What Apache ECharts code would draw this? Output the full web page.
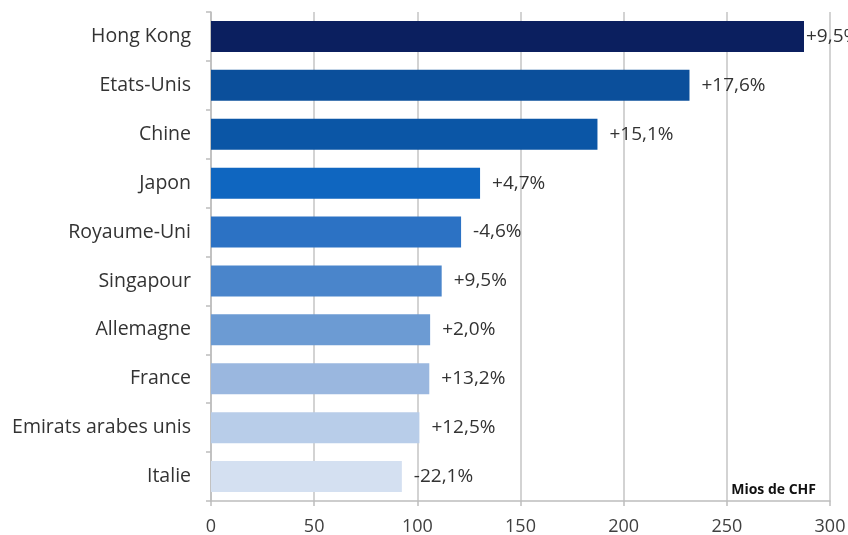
<!DOCTYPE html>
<html>
<head>
<meta charset="utf-8">
<script src="https://cdn.jsdelivr.net/npm/echarts@6/dist/echarts.min.js"></script>
<style>
  html, body { margin: 0; padding: 0; background: #fff; }
  #chart { width: 848px; height: 535px; }
</style>
</head>
<body>
<div id="chart"></div>
<script>
// pays, du haut vers le bas
var countries = ['Hong Kong', 'Etats-Unis', 'Chine', 'Japon', 'Royaume-Uni',
  'Singapour', 'Allemagne', 'France', 'Emirats arabes unis', 'Italie'];
// exportations (Mios de CHF)
var values = [287.4, 231.9, 187.3, 130.4, 121.2, 111.8, 106.2, 105.8, 101, 92.5];
// variation
var changes = ['+9,5%', '+17,6%', '+15,1%', '+4,7%', '-4,6%', '+9,5%', '+2,0%', '+13,2%', '+12,5%', '-22,1%'];
var barColors = ['#0b1f5f', '#0b4f9b', '#0b56a6', '#0f66c0', '#2c72c4',
  '#4a85cb', '#6c9bd3', '#9ab7df', '#b8cde9', '#d4e0f1'];
var xTicks = [0, 50, 100, 150, 200, 250, 300];

var chart = echarts.init(document.getElementById('chart'));

var seriesData = values.map(function (v, i) {
  return {
    value: v,
    itemStyle: { color: barColors[i] },
    label: { formatter: changes[i], distance: i === 0 ? 2 : 12 }
  };
});

var font = 'Open Sans';

chart.setOption({
  animation: false,
  grid: { left: 211, right: 18, top: 12, bottom: 34, containLabel: false, outerBoundsMode: 'none' },
  xAxis: {
    type: 'value',
    min: xTicks[0],
    max: xTicks[xTicks.length - 1],
    interval: 50,
    axisLine: { show: true, lineStyle: { color: '#bdbdbd', width: 1.5 } },
    axisTick: { show: true, length: 5, lineStyle: { color: '#bdbdbd', width: 1.5 } },
    axisLabel: { color: '#404040', fontSize: 18, fontFamily: font, margin: 17 },
    splitLine: { show: true, lineStyle: { color: '#c4c4c4', width: 1.5 } }
  },
  yAxis: {
    type: 'category',
    data: countries,
    inverse: true,
    axisLine: { show: true, lineStyle: { color: '#bdbdbd', width: 1.5 } },
    axisTick: { show: true, length: 5, lineStyle: { color: '#bdbdbd', width: 1.5 } },
    axisLabel: { color: '#333', fontSize: 19.5, fontFamily: font, margin: 20 }
  },
  series: [{
    type: 'bar',
    data: seriesData,
    barWidth: 31,
    label: {
      show: true,
      position: 'right',
      color: '#333',
      fontSize: 19,
      fontFamily: font
    }
  }],
  graphic: [{
    type: 'text',
    right: 32,
    top: 483,
    style: { text: 'Mios de CHF', fill: '#111', font: 'bold 14px "Open Sans"' }
  }]
});
</script>
</body>
</html>
